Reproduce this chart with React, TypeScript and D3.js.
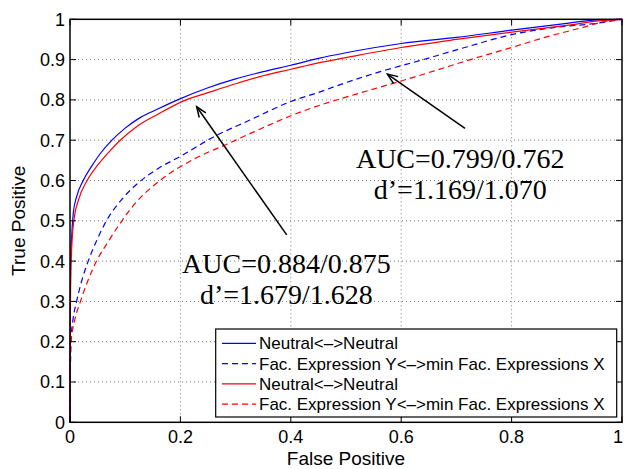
import { useEffect, useRef } from 'react'
import * as d3 from 'd3'

// [false positive, true positive]
const neutralBlue: [number, number][] = [
  [0, 0], [0.0005, 0.25], [0.001, 0.38], [0.003, 0.46], [0.006, 0.52], [0.012, 0.56],
  [0.024, 0.6], [0.039, 0.635], [0.055, 0.667], [0.076, 0.7], [0.1, 0.73], [0.127, 0.756],
  [0.16, 0.778], [0.195, 0.8], [0.25, 0.83], [0.3, 0.852], [0.35, 0.87], [0.4, 0.886],
  [0.45, 0.903], [0.5, 0.917], [0.6, 0.94], [0.7, 0.955], [0.8, 0.973], [0.9, 0.99],
  [0.95, 0.998], [1, 1],
]
const facBlue: [number, number][] = [
  [0, 0], [0.0005, 0.1], [0.0015, 0.2], [0.005, 0.25], [0.012, 0.3], [0.021, 0.35],
  [0.033, 0.4], [0.048, 0.45], [0.066, 0.5], [0.095, 0.555], [0.127, 0.598], [0.16, 0.63],
  [0.2, 0.66], [0.26, 0.708], [0.326, 0.75], [0.4, 0.796], [0.453, 0.82], [0.5, 0.843],
  [0.562, 0.87], [0.64, 0.9], [0.72, 0.932], [0.8, 0.962], [0.88, 0.98], [0.954, 0.99],
  [1, 1],
]
const neutralRed: [number, number][] = [
  [0, 0], [0.0005, 0.2], [0.001, 0.33], [0.003, 0.43], [0.007, 0.5], [0.015, 0.55],
  [0.031, 0.6], [0.05, 0.638], [0.07, 0.67], [0.091, 0.7], [0.12, 0.733], [0.16, 0.765],
  [0.21, 0.8], [0.25, 0.818], [0.3, 0.84], [0.35, 0.86], [0.4, 0.876], [0.45, 0.892],
  [0.5, 0.905], [0.6, 0.93], [0.7, 0.95], [0.8, 0.968], [0.9, 0.985], [0.97, 0.998],
  [1, 1],
]
const facRed: [number, number][] = [
  [0, 0], [0.0005, 0.1], [0.002, 0.2], [0.008, 0.25], [0.019, 0.3], [0.032, 0.35],
  [0.048, 0.4], [0.07, 0.45], [0.094, 0.5], [0.118, 0.543], [0.163, 0.6], [0.223, 0.652],
  [0.284, 0.69], [0.332, 0.72], [0.399, 0.76], [0.453, 0.787], [0.52, 0.815], [0.6, 0.847],
  [0.66, 0.872], [0.718, 0.897], [0.8, 0.93], [0.86, 0.955], [0.924, 0.978], [0.978, 0.997],
  [1, 1],
]

const legendLabels = [
  'Neutral<–>Neutral',
  'Fac. Expression Y<–>min Fac. Expressions X',
  'Neutral<–>Neutral',
  'Fac. Expression Y<–>min Fac. Expressions X',
]
const xTicks = [0, 0.2, 0.4, 0.6, 0.8, 1]
const yTicks = [0, 0.1, 0.2, 0.3, 0.4, 0.5, 0.6, 0.7, 0.8, 0.9, 1]

// annotations: text lines + arrow (tail -> tip), in data units
const notes = [
  { lines: ['AUC=0.884/0.875', 'd’=1.679/1.628'], at: [0.392, 0.37], tail: [0.3926, 0.465], tip: [0.2295, 0.783] },
  { lines: ['AUC=0.799/0.762', 'd’=1.169/1.070'], at: [0.707, 0.63], tail: [0.7156, 0.7295], tip: [0.575, 0.864] },
]

const W = 625
const H = 469
const margin = { top: 19.3, right: 3, bottom: 46.7, left: 70 }

const App = () => {
  const svgRef = useRef<SVGSVGElement>(null)

  useEffect(() => {
    const svg = d3.select(svgRef.current)
    svg.selectAll('*').remove()

    const x = d3.scaleLinear().domain([0, 1]).range([margin.left, W - margin.right])
    const y = d3.scaleLinear().domain([0, 1]).range([H - margin.bottom, margin.top])
    const sans = 'Helvetica, Arial, "Liberation Sans", sans-serif'

    // grid
    const grid = svg.append('g').attr('stroke', '#777').attr('stroke-width', 1).attr('stroke-dasharray', '1,3')
    xTicks.slice(1, -1).forEach(t => {
      grid.append('line').attr('x1', x(t)).attr('x2', x(t)).attr('y1', y(0)).attr('y2', y(1))
    })
    yTicks.slice(1, -1).forEach(t => {
      grid.append('line').attr('x1', x(0)).attr('x2', x(1)).attr('y1', y(t)).attr('y2', y(t))
    })

    // curves
    const line = d3.line<[number, number]>().x(d => x(d[0])).y(d => y(d[1])).curve(d3.curveMonotoneX)
    const series = [
      { data: neutralBlue, color: '#0000ff', dash: null },
      { data: facBlue, color: '#0000ff', dash: '6,4' },
      { data: neutralRed, color: '#ff0000', dash: null },
      { data: facRed, color: '#ff0000', dash: '6,4' },
    ]
    series.forEach(s => {
      svg.append('path')
        .attr('d', line(s.data))
        .attr('fill', 'none')
        .attr('stroke', s.color)
        .attr('stroke-width', 1.2)
        .attr('stroke-dasharray', s.dash)
    })

    // box + inward ticks on all four sides
    svg.append('rect')
      .attr('x', x(0)).attr('y', y(1))
      .attr('width', x(1) - x(0)).attr('height', y(0) - y(1))
      .attr('fill', 'none').attr('stroke', '#000').attr('stroke-width', 1.5)
    const tk = svg.append('g').attr('stroke', '#000').attr('stroke-width', 1)
    const tl = 6
    xTicks.forEach(t => {
      tk.append('line').attr('x1', x(t)).attr('x2', x(t)).attr('y1', y(0)).attr('y2', y(0) - tl)
      tk.append('line').attr('x1', x(t)).attr('x2', x(t)).attr('y1', y(1)).attr('y2', y(1) + tl)
    })
    yTicks.forEach(t => {
      tk.append('line').attr('x1', x(0)).attr('x2', x(0) + tl).attr('y1', y(t)).attr('y2', y(t))
      tk.append('line').attr('x1', x(1)).attr('x2', x(1) - tl).attr('y1', y(t)).attr('y2', y(t))
    })

    const fmt = d3.format('~g')
    svg.append('g').selectAll('text').data(xTicks).join('text')
      .attr('x', d => Math.min(x(d), W - 7)).attr('y', y(0) + 21)
      .attr('text-anchor', 'middle')
      .attr('font-family', sans).attr('font-size', 18)
      .text(d => fmt(d))
    svg.append('g').selectAll('text').data(yTicks).join('text')
      .attr('x', x(0) - 5).attr('y', d => y(d)).attr('dy', '0.36em')
      .attr('text-anchor', 'end')
      .attr('font-family', sans).attr('font-size', 18)
      .text(d => fmt(d))

    svg.append('text')
      .attr('x', (x(0) + x(1)) / 2).attr('y', 465)
      .attr('text-anchor', 'middle')
      .attr('font-family', sans).attr('font-size', 19)
      .text('False Positive')
    svg.append('text')
      .attr('transform', `translate(25,${(y(0) + y(1)) / 2}) rotate(-90)`)
      .attr('text-anchor', 'middle')
      .attr('font-family', sans).attr('font-size', 19)
      .text('True Positive')

    // annotations
    notes.forEach(n => {
      const tx = x(n.tip[0]), ty = y(n.tip[1])
      const sx = x(n.tail[0]), sy = y(n.tail[1])
      svg.append('line')
        .attr('x1', sx).attr('y1', sy).attr('x2', tx).attr('y2', ty)
        .attr('stroke', '#000').attr('stroke-width', 1.5)
      const ang = Math.atan2(sy - ty, sx - tx)
      const hl = 11, hw = 0.38
      const p1 = [tx + hl * Math.cos(ang + hw), ty + hl * Math.sin(ang + hw)]
      const p2 = [tx + hl * Math.cos(ang - hw), ty + hl * Math.sin(ang - hw)]
      svg.append('path')
        .attr('d', `M${p1[0]},${p1[1]}L${tx},${ty}L${p2[0]},${p2[1]}`)
        .attr('fill', 'none').attr('stroke', '#000').attr('stroke-width', 1.5)
      n.lines.forEach((s, i) => {
        svg.append('text')
          .attr('x', x(n.at[0])).attr('y', y(n.at[1]) + i * 30.5)
          .attr('text-anchor', 'middle')
          .attr('font-family', '"Liberation Serif", "Times New Roman", serif')
          .attr('font-size', 28)
          .text(s)
      })
    })

    // legend
    const lg = svg.append('g')
    lg.append('rect')
      .attr('x', 215.7).attr('y', 329).attr('width', 401).attr('height', 88)
      .attr('fill', '#fff').attr('stroke', '#000').attr('stroke-width', 1.2)
    series.forEach((s, i) => {
      const ry = 343.3 + i * 20.3
      lg.append('line')
        .attr('x1', 222).attr('x2', 256).attr('y1', ry).attr('y2', ry)
        .attr('stroke', s.color).attr('stroke-width', 1.2)
        .attr('stroke-dasharray', s.dash)
      lg.append('text')
        .attr('x', 259).attr('y', ry).attr('dy', '0.36em')
        .attr('font-family', sans).attr('font-size', 17)
        .text(legendLabels[i])
    })
  }, [])

  return (
    <div style={{ position: 'absolute', left: 0, top: 0 }}>
      <svg ref={svgRef} width={W} height={H} style={{ display: 'block', background: '#fff' }} />
    </div>
  )
}

export default App
